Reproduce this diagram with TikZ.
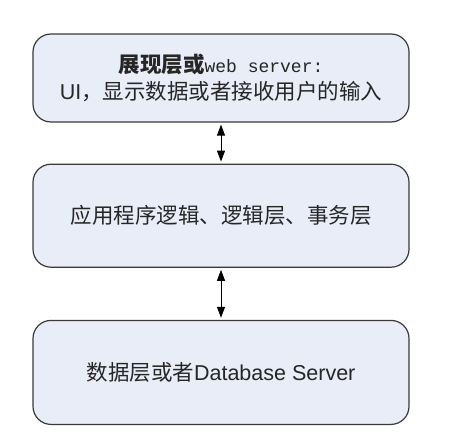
\documentclass[tikz,border=0pt]{standalone}
\usepackage{fontspec}
\setmainfont{Liberation Sans}
\newfontfamily\cjk{Noto Sans CJK SC}
\newfontfamily\mono{Liberation Mono}
\usetikzlibrary{positioning, arrows.meta}

\definecolor{layerfill}{HTML}{E8EDF8}
\definecolor{layerdraw}{HTML}{3A3A3A}

\tikzset{
    layer/.style = {draw = layerdraw, line width = 1.2pt, fill = layerfill, rounded corners = 18pt,
        minimum width = 376pt, align = center, font = \fontsize{21.5}{27}\selectfont, text = black!85},
    link/.style = {line width = 1pt, {Triangle[length = 11pt, width = 8pt]}-{Triangle[length = 11pt, width = 8pt]},
        shorten <= 2pt, shorten >= 2pt}
}

\begin{document}
\begin{tikzpicture}[x = 1pt, y = -1pt]
            \useasboundingbox (0, 0) rectangle (460, 447);
            \coordinate (top) at (221, 78);
            
            \node[layer, minimum height = 88pt] (presentation) at (top)
                {{\cjk\bfseries 展现层或}{\mono\fontsize{18}{27}\selectfont web server:}\\ UI{\cjk ，显示数据或者接收用户的输入}};
            
            \node[layer, minimum height = 103pt, below = 41pt of presentation] (logic)
                {\cjk 应用程序逻辑、逻辑层、事务层};
            
            \node[layer, minimum height = 104pt, below = 52pt of logic] (data)
                {{\cjk 数据层或者}Database Server};
            
            \draw[link] (presentation) -- (logic);
            \draw[link] (logic) -- (data);
        \end{tikzpicture}
\end{document}
